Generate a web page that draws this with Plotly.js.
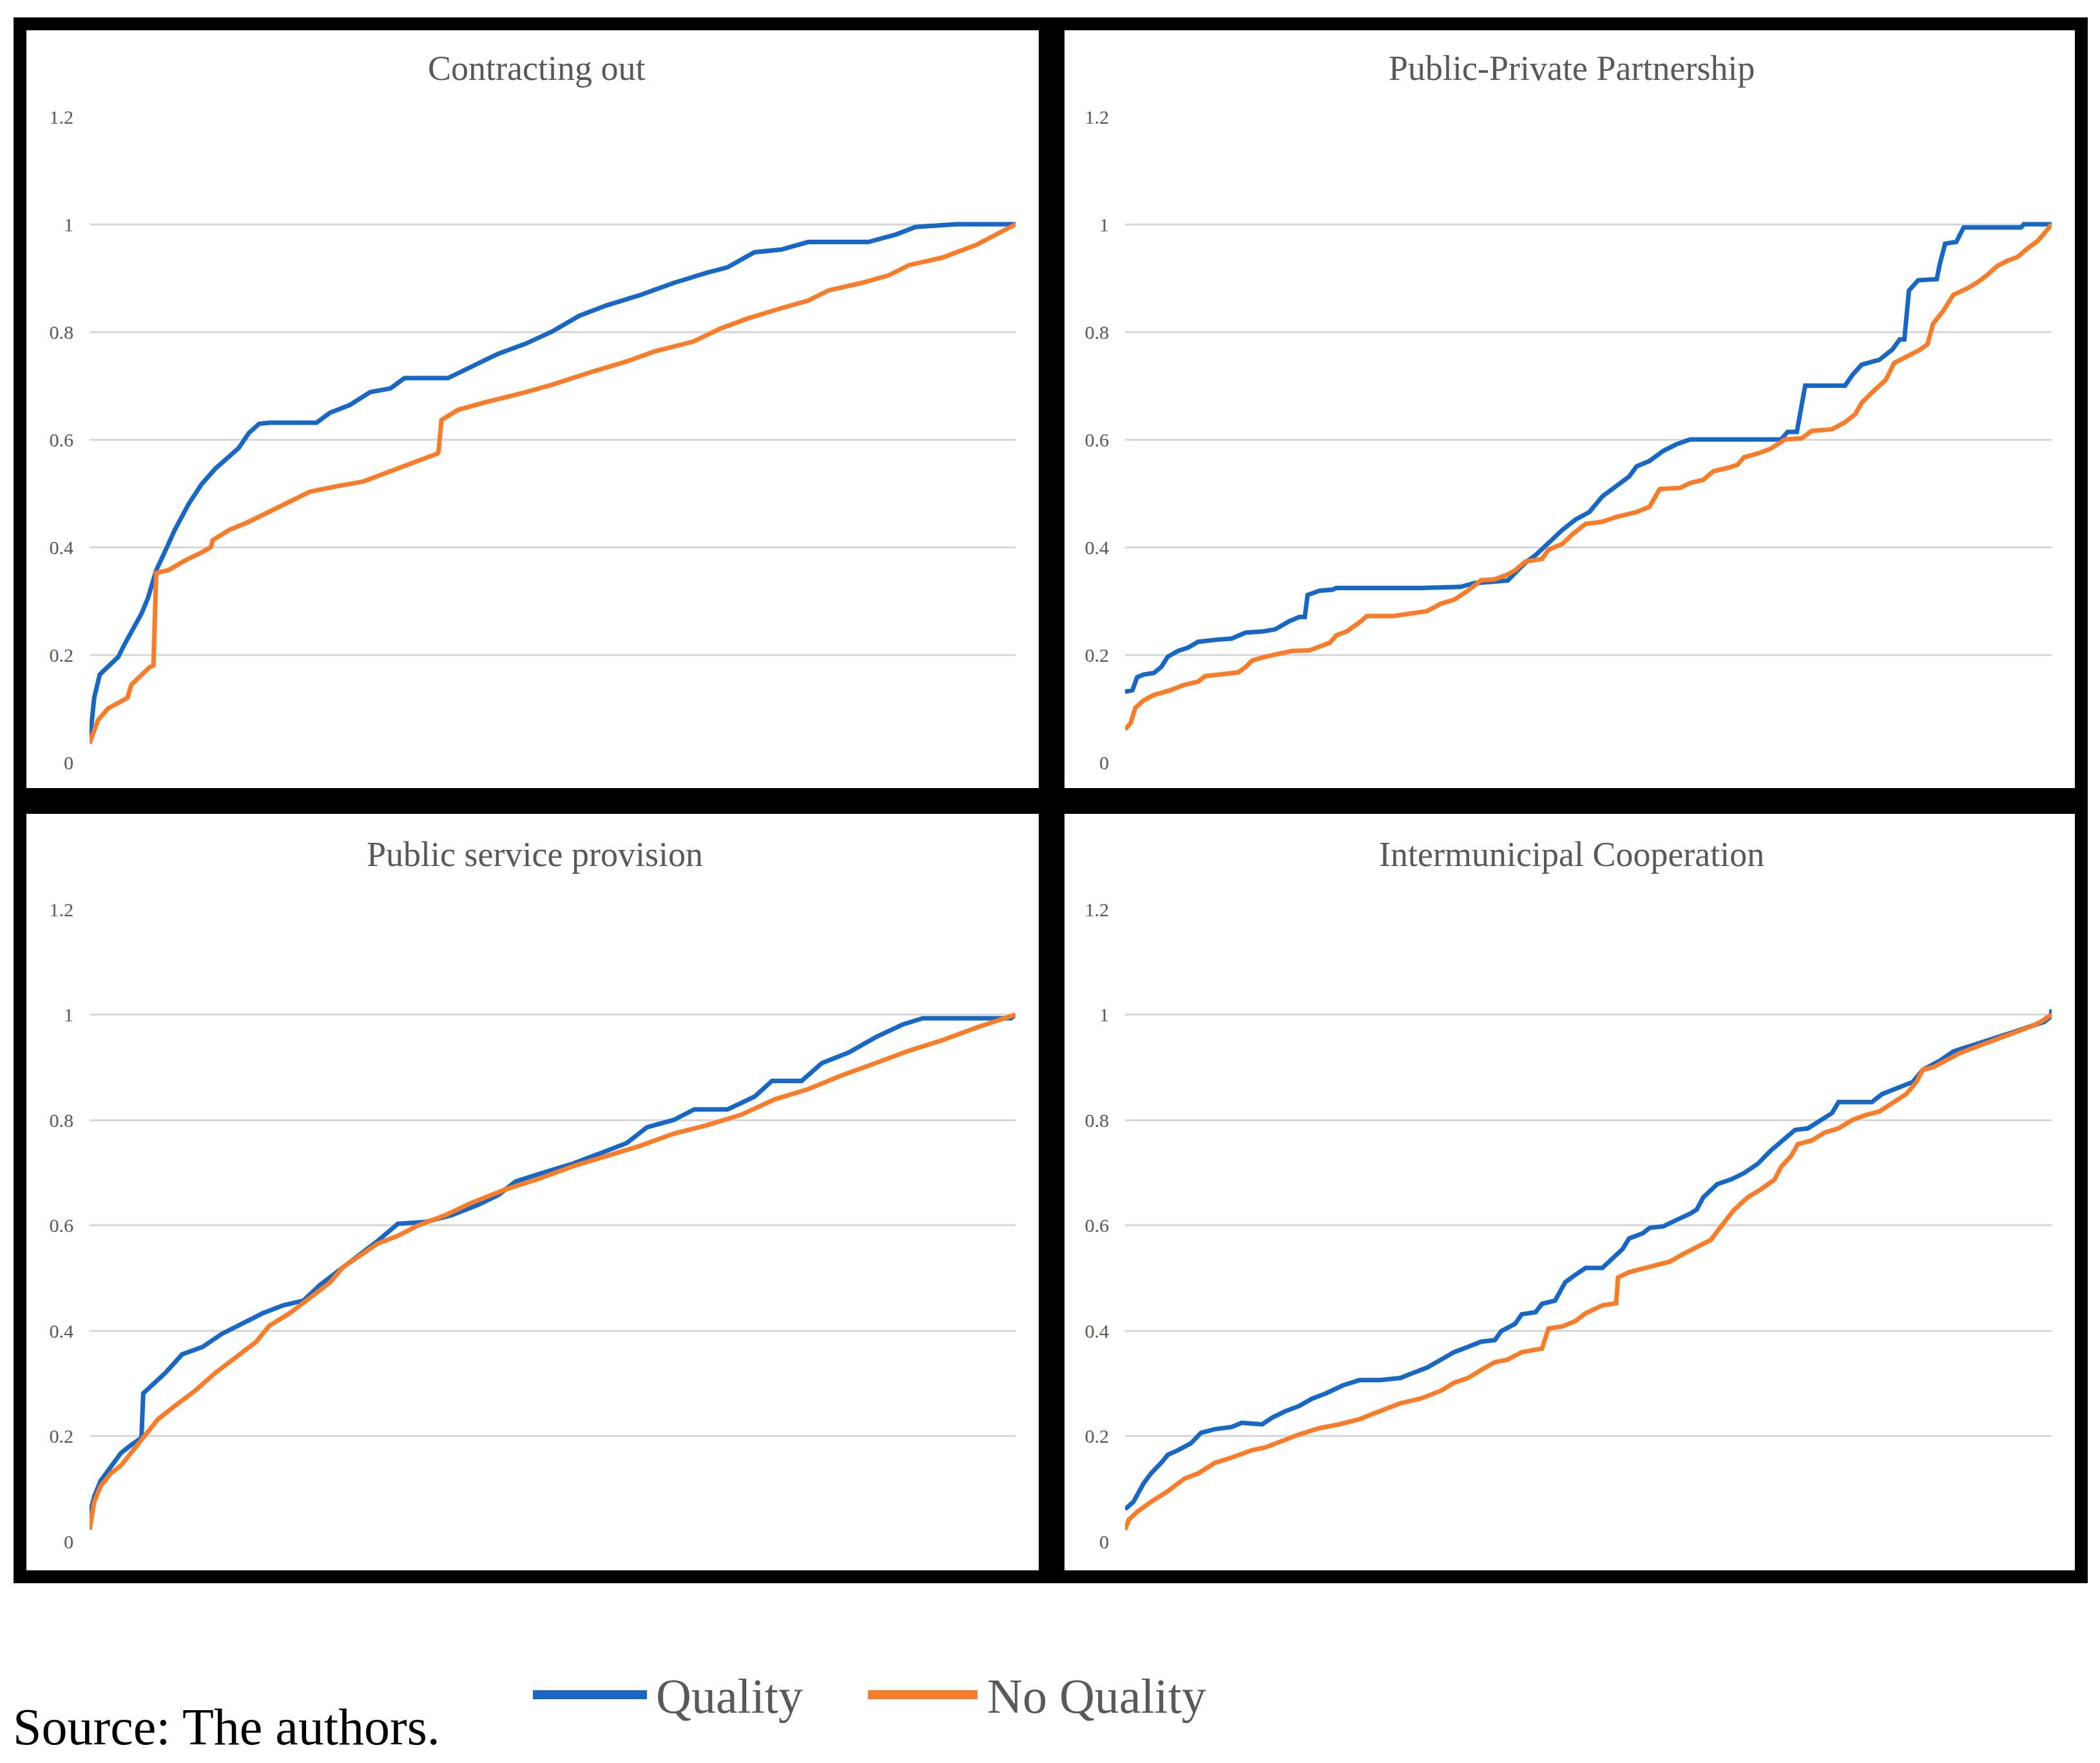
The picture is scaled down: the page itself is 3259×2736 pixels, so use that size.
<!DOCTYPE html>
<html>
<head>
<meta charset="utf-8">
<script src="https://cdn.plot.ly/plotly-3.0.1.min.js"></script>
<style>html,body{margin:0;padding:0;background:#ffffff;}</style>
</head>
<body>
<div id="chart" style="width:3259px;height:2736px;"></div>
<script>
// ---------------- DATA ----------------
const panelTitles = ["Contracting out", "Public-Private Partnership", "Public service provision", "Intermunicipal Cooperation"];
const seriesNames = ["Quality", "No Quality"];
const yTickVals = [0, 0.2, 0.4, 0.6, 0.8, 1, 1.2];
const yTickText = ["0", "0.2", "0.4", "0.6", "0.8", "1", "1.2"];
const sourceNote = "Source: The authors.";

// Contracting out (x = cumulative share of observations, %)
const contractingQualityX = [0,0.5,1.1,2.0,3.1,3.8,4.9,5.6,6.3,7.2,8.1,9.2,10.7,12.1,13.6,15.1,16.1,17.2,18.3,19.4,24.5,26.0,28.1,30.3,32.5,34.0,38.7,41.2,44.1,47.1,50.0,52.9,55.8,59.4,63.1,66.7,68.9,71.8,74.7,77.6,84.1,87.1,89.2,93.6,100];
const contractingQualityY = [0.035,0.12,0.163,0.177,0.196,0.22,0.253,0.276,0.305,0.357,0.39,0.432,0.48,0.517,0.546,0.57,0.584,0.612,0.629,0.631,0.631,0.65,0.664,0.688,0.695,0.714,0.714,0.735,0.759,0.778,0.801,0.83,0.849,0.868,0.891,0.91,0.92,0.948,0.953,0.967,0.967,0.981,0.995,1.0,1.0];
const contractingNoQualityX = [0,0.9,2.0,4.1,4.5,5.6,6.5,6.9,7.2,8.5,10.3,12.1,13.1,13.3,15.1,17.2,19.4,21.6,23.8,26.7,29.6,32.5,35.4,37.6,37.7,38.0,39.8,42.7,47.1,50.0,54.3,58.0,60.9,65.2,68.1,71.1,74.7,77.6,79.8,83.4,86.3,88.5,92.1,95.8,100];
const contractingNoQualityY = [0.035,0.078,0.10,0.12,0.144,0.163,0.177,0.18,0.352,0.357,0.375,0.39,0.4,0.413,0.432,0.447,0.465,0.484,0.503,0.513,0.522,0.541,0.56,0.574,0.579,0.636,0.655,0.669,0.688,0.702,0.726,0.745,0.763,0.782,0.806,0.825,0.844,0.858,0.877,0.891,0.905,0.924,0.938,0.962,1.0];

// Public-Private Partnership
const pppQualityX = [0,0.8,1.3,2.0,3.1,3.9,4.6,5.7,6.8,7.9,10.0,11.5,13.0,14.8,16.2,17.7,18.8,19.4,19.7,21.0,22.4,22.8,31.9,36.2,37.7,41.3,42.1,43.2,44.3,45.7,47.2,48.6,50.1,51.5,53.0,54.4,55.2,56.6,58.1,59.5,61.0,70.8,71.5,72.5,73.4,77.7,78.5,79.5,81.4,82.8,83.6,84.1,84.6,85.6,87.6,87.9,88.5,89.7,90.5,96.7,97.0,100];
const pppQualityY = [0.131,0.134,0.158,0.163,0.166,0.177,0.196,0.207,0.213,0.224,0.228,0.23,0.241,0.243,0.247,0.262,0.27,0.27,0.311,0.319,0.321,0.324,0.324,0.326,0.333,0.338,0.352,0.371,0.385,0.409,0.432,0.451,0.465,0.494,0.513,0.531,0.55,0.56,0.579,0.591,0.6,0.6,0.614,0.614,0.70,0.70,0.72,0.739,0.748,0.767,0.786,0.786,0.877,0.896,0.898,0.924,0.964,0.967,0.994,0.994,1.0,1.0];
const pppNoQualityX = [0,0.6,1.1,2.0,3.1,4.9,6.4,7.9,8.6,10.0,12.2,13.0,13.7,15.1,16.6,18.0,19.9,21.0,22.1,22.8,23.9,25.3,26.1,29.0,30.4,32.6,34.1,35.5,37.0,38.4,39.9,41.3,42.1,43.2,45.0,45.7,47.2,48.3,49.7,51.5,53.0,55.2,56.6,57.7,59.9,61.0,62.4,63.5,65.0,66.1,66.8,68.3,69.7,71.2,73.0,74.1,76.3,77.7,78.8,79.5,80.6,82.1,83.0,84.3,85.8,86.6,87.2,88.3,89.4,90.8,91.9,93.0,94.1,95.2,96.3,97.4,98.5,99.2,100];
const pppNoQualityY = [0.061,0.073,0.101,0.115,0.125,0.134,0.144,0.15,0.16,0.163,0.167,0.177,0.189,0.196,0.202,0.207,0.208,0.215,0.222,0.236,0.243,0.26,0.272,0.272,0.276,0.281,0.295,0.302,0.319,0.338,0.34,0.349,0.357,0.373,0.378,0.395,0.406,0.424,0.443,0.447,0.456,0.465,0.475,0.508,0.51,0.519,0.525,0.541,0.547,0.553,0.567,0.574,0.583,0.6,0.602,0.616,0.619,0.632,0.647,0.668,0.687,0.711,0.742,0.753,0.767,0.777,0.815,0.839,0.869,0.88,0.891,0.905,0.922,0.932,0.939,0.955,0.969,0.983,1.0];

// Public service provision
const publicQualityX = [0,0.5,1.2,2.0,2.7,3.4,4.5,5.6,5.8,6.7,8.2,10.0,12.2,14.3,16.5,18.7,20.9,23.1,24.9,26.7,28.9,31.1,33.3,36.2,39.1,42.0,44.2,46.0,48.5,52.2,55.8,58.0,60.2,63.1,65.3,68.9,71.8,73.7,76.9,79.1,82.0,84.9,87.8,90.0,99.5,100];
const publicQualityY = [0.051,0.085,0.115,0.134,0.149,0.168,0.183,0.196,0.281,0.296,0.32,0.355,0.369,0.394,0.413,0.433,0.448,0.457,0.487,0.511,0.541,0.57,0.603,0.606,0.619,0.639,0.658,0.683,0.697,0.717,0.741,0.756,0.786,0.8,0.82,0.82,0.844,0.874,0.874,0.908,0.928,0.957,0.981,0.993,0.993,1.0];
const publicNoQualityX = [0,0.5,1.2,2.3,3.4,4.5,6.0,7.4,9.2,11.4,13.6,15.8,18.0,19.4,21.6,23.8,26.0,27.4,29.6,31.1,33.3,35.4,38.4,41.3,44.9,48.5,52.2,55.8,59.5,63.1,66.7,70.4,74.0,77.7,81.3,84.9,88.6,92.2,95.9,100];
const publicNoQualityY = [0.022,0.075,0.105,0.129,0.144,0.168,0.203,0.232,0.257,0.286,0.32,0.35,0.379,0.409,0.433,0.462,0.492,0.521,0.546,0.565,0.58,0.599,0.619,0.643,0.668,0.688,0.712,0.732,0.751,0.774,0.79,0.81,0.839,0.859,0.885,0.908,0.932,0.952,0.976,1.0];

// Intermunicipal Cooperation
const imcQualityX = [0,0.9,2.0,2.8,3.9,4.6,5.7,7.1,8.2,9.7,11.5,12.6,14.8,15.9,17.3,18.8,20.2,21.7,23.5,25.3,27.5,29.7,31.1,32.6,34.1,35.5,37.0,38.4,39.9,40.6,42.1,42.8,44.3,45.0,46.4,47.5,48.6,49.7,51.5,52.6,53.7,54.4,55.9,56.6,58.1,59.5,61.0,61.7,62.4,63.9,65.4,66.8,68.3,69.7,71.2,72.3,73.7,74.8,76.3,77.0,80.6,81.7,83.2,85.0,86.1,87.9,89.4,91.6,93.7,95.9,98.1,99.2,99.9,100];
const imcQualityY = [0.061,0.075,0.11,0.129,0.149,0.164,0.173,0.186,0.206,0.213,0.217,0.225,0.222,0.235,0.247,0.257,0.271,0.281,0.296,0.306,0.306,0.31,0.32,0.33,0.345,0.359,0.369,0.379,0.382,0.399,0.413,0.431,0.435,0.451,0.457,0.492,0.506,0.519,0.519,0.536,0.555,0.575,0.585,0.595,0.598,0.61,0.622,0.63,0.653,0.678,0.687,0.699,0.717,0.742,0.766,0.781,0.784,0.797,0.813,0.834,0.834,0.849,0.859,0.872,0.895,0.912,0.93,0.942,0.955,0.967,0.98,0.986,0.996,1.01];
const imcNoQualityX = [0,0.4,1.3,2.8,4.6,6.4,7.9,9.7,11.5,13.7,15.1,16.6,18.8,21.0,23.1,25.3,27.5,29.7,31.9,34.1,35.5,37.0,38.4,39.9,41.3,42.8,45.0,45.7,47.2,48.6,49.7,51.5,53.0,53.2,54.4,56.6,58.8,60.3,61.7,63.2,64.6,65.7,67.2,68.6,70.1,70.8,71.9,72.6,74.1,75.5,77.0,78.5,79.9,81.4,82.8,84.3,85.4,86.1,87.2,88.6,90.1,91.6,93.0,94.5,95.9,97.7,98.8,100];
const imcNoQualityY = [0.022,0.041,0.056,0.075,0.095,0.119,0.129,0.149,0.159,0.173,0.178,0.188,0.203,0.215,0.222,0.232,0.247,0.262,0.271,0.286,0.301,0.31,0.325,0.34,0.345,0.359,0.366,0.404,0.408,0.418,0.433,0.448,0.452,0.501,0.511,0.521,0.531,0.546,0.558,0.572,0.604,0.629,0.653,0.668,0.687,0.711,0.732,0.754,0.761,0.776,0.784,0.8,0.809,0.816,0.832,0.849,0.872,0.895,0.9,0.912,0.927,0.937,0.946,0.956,0.964,0.977,0.986,1.0];

// ---------------- STYLE / LAYOUT ----------------
const W = 3259, H = 2736;
const px = x => x / W;
const py = y => 1 - y / H;
const BLUE = "#1767C6", ORANGE = "#FA7B28";
const GRAY_TEXT = "#595959";
const SERIF = "Liberation Serif, Times New Roman, serif";

const panelData = [
  [[contractingQualityX, contractingQualityY], [contractingNoQualityX, contractingNoQualityY]],
  [[pppQualityX, pppQualityY], [pppNoQualityX, pppNoQualityY]],
  [[publicQualityX, publicQualityY], [publicNoQualityX, publicNoQualityY]],
  [[imcQualityX, imcQualityY], [imcNoQualityX, imcNoQualityY]]
];
// plot areas in pixels [x0,x1,y0(top),y1(bottom)]
const plotBoxes = [
  [139, 1576, 181, 1183],
  [1746, 3184, 181, 1183],
  [139, 1576, 1411, 2392],
  [1746, 3184, 1411, 2392]
];
// frames in pixels [x0,x1,y0,y1] (outer edges)
const frames = [
  [21, 1632, 27, 1243],
  [1632, 3240, 27, 1243],
  [21, 1632, 1243, 2457],
  [1632, 3240, 1243, 2457]
];
const titlePos = [[832, 106], [2439, 106], [830, 1326], [2439, 1326]];

const traces = [];
const layout = {
  width: W, height: H,
  margin: {l: 0, r: 0, t: 0, b: 0},
  paper_bgcolor: "#ffffff",
  plot_bgcolor: "rgba(0,0,0,0)",
  showlegend: false,
  shapes: [],
  annotations: []
};

const colors = [BLUE, ORANGE];
panelData.forEach((pd, i) => {
  const n = i + 1;
  const xa = n === 1 ? "x" : "x" + n;
  const ya = n === 1 ? "y" : "y" + n;
  pd.forEach((s, j) => {
    traces.push({
      type: "scatter", mode: "lines",
      x: s[0], y: s[1],
      name: seriesNames[j],
      xaxis: xa, yaxis: ya,
      line: {color: colors[j], width: 7},
      cliponaxis: false,
      hoverinfo: "skip"
    });
  });
  const b = plotBoxes[i];
  layout["xaxis" + (n === 1 ? "" : n)] = {
    domain: [px(b[0]), px(b[1])],
    anchor: ya,
    range: [0, 100],
    showgrid: false, zeroline: false, showline: false,
    showticklabels: false, ticks: ""
  };
  layout["yaxis" + (n === 1 ? "" : n)] = {
    domain: [py(b[3]), py(b[2])],
    anchor: xa,
    range: [0, 1.2],
    tickmode: "array", tickvals: yTickVals, ticktext: yTickText,
    showgrid: true, gridcolor: "#D9D9D9", gridwidth: 3,
    zeroline: false, showline: false, ticks: "",
    ticklabelstandoff: 24,
    tickfont: {family: SERIF, size: 30, color: GRAY_TEXT}
  };
  const f = frames[i];
  const lw = 20;
  layout.shapes.push({
    type: "rect", xref: "paper", yref: "paper",
    x0: px(f[0] + lw / 2), x1: px(f[1] - lw / 2),
    y0: py(f[3] - lw / 2), y1: py(f[2] + lw / 2),
    line: {color: "#000000", width: lw}, fillcolor: "rgba(0,0,0,0)",
    layer: "above"
  });
  layout.annotations.push({
    xref: "paper", yref: "paper",
    x: px(titlePos[i][0]), y: py(titlePos[i][1]),
    xanchor: "center", yanchor: "middle",
    text: panelTitles[i], showarrow: false,
    font: {family: SERIF, size: 54, color: GRAY_TEXT}
  });
});

// legend (drawn below the panels)
const legendY = 2630;
const legendItems = [[827, 1004, 1016], [1347, 1517, 1530]];
legendItems.forEach((it, j) => {
  layout.shapes.push({
    type: "line", xref: "paper", yref: "paper",
    x0: px(it[0]), x1: px(it[1]), y0: py(legendY), y1: py(legendY),
    line: {color: colors[j], width: 14}
  });
  layout.annotations.push({
    xref: "paper", yref: "paper",
    x: px(it[2]), y: py(legendY + 2),
    xanchor: "left", yanchor: "middle",
    text: seriesNames[j], showarrow: false,
    font: {family: SERIF, size: 76, color: GRAY_TEXT}
  });
});

layout.annotations.push({
  xref: "paper", yref: "paper",
  x: px(18), y: py(2680),
  xanchor: "left", yanchor: "middle",
  text: sourceNote, showarrow: false,
  font: {family: SERIF, size: 80, color: "#000000"}
});

Plotly.newPlot("chart", traces, layout, {staticPlot: true, displayModeBar: false});
</script>
</body>
</html>
